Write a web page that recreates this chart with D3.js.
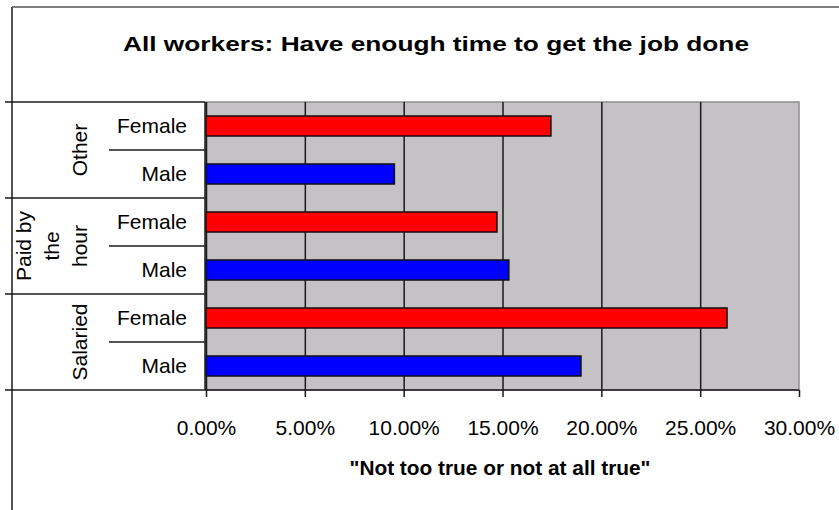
<!DOCTYPE html>
<html>
<head>
<meta charset="utf-8">
<script src="https://cdn.jsdelivr.net/npm/d3@7"></script>
<style>
  body { margin: 0; background: #fff; }
  svg text { font-family: "Liberation Sans", Arial, sans-serif; fill: #000; }
</style>
</head>
<body>
<svg id="chart" width="839" height="510"></svg>
<script>
// data
var groups = ["Other", "Paid by the hour", "Salaried"];
var groupLines = [["Other"], ["Paid by", "the", "hour"], ["Salaried"]];
var genders = ["Female", "Male"];
var femaleValues = [17.45, 14.72, 26.36];
var maleValues = [9.53, 15.32, 18.97];
var tickValues = [0, 0.05, 0.10, 0.15, 0.20, 0.25, 0.30];
var titleText = "All workers: Have enough time to get the job done";
var axisTitle = "\"Not too true or not at all true\"";

var linecolor = "#1a1a1a",
	plotfill = "#c4c2c5",
	femalecolor = "#ff0000",
	malecolor = "#0000ff";

var svg = d3.select("#chart");
var plotL = 206, plotR = 799, plotT = 102, plotB = 390;

var rows = [];
groups.forEach(function(g, i) {
	rows.push({ group: g, gender: "Female", value: femaleValues[i] / 100, key: g + "|Female" });
	rows.push({ group: g, gender: "Male", value: maleValues[i] / 100, key: g + "|Male" });
});

var x = d3.scaleLinear()
	.domain([0, 0.30])
	.range([plotL, plotR]);
var y = d3.scaleBand()
	.domain(rows.map(function(d) { return d.key; }))
	.range([plotT, plotB])
	.paddingInner(28 / 48)
	.paddingOuter(14 / 48);
var pad = (y.step() - y.bandwidth()) / 2;
function rowTop(k) { return y(k) - pad; }

// outer frame
svg.append("line").attr("x1", 12).attr("x2", 12).attr("y1", 7).attr("y2", 510)
	.attr("stroke", linecolor).attr("stroke-width", 1.5);
svg.append("line").attr("x1", 12).attr("x2", 839).attr("y1", 7).attr("y2", 7)
	.attr("stroke", "#555").attr("stroke-width", 1.5);

// title
svg.append("text")
	.attr("x", 436)
	.attr("y", 51)
	.attr("text-anchor", "middle")
	.attr("font-size", 21)
	.attr("font-weight", "bold")
	.attr("textLength", 626)
	.attr("lengthAdjust", "spacingAndGlyphs")
	.text(titleText);

// plot background
svg.append("rect")
	.attr("x", plotL)
	.attr("y", plotT)
	.attr("width", plotR - plotL)
	.attr("height", plotB - plotT)
	.attr("fill", plotfill)
	.attr("stroke", "#8e8e8e")
	.attr("stroke-width", 1.5);

// gridlines
var grid = svg.append("g")
	.attr("transform", "translate(0," + plotT + ")")
	.call(d3.axisBottom(x)
		.tickValues(tickValues.filter(function(t) { return t < 0.30; }))
		.tickSize(plotB - plotT)
		.tickFormat(""));
grid.select(".domain").remove();
grid.selectAll("line").attr("stroke", linecolor).attr("stroke-width", 1.5);

// bars
svg.append("g").selectAll("rect")
	.data(rows)
	.enter().append("rect")
	.attr("x", x(0))
	.attr("y", function(d) { return y(d.key); })
	.attr("width", function(d) { return x(d.value) - x(0); })
	.attr("height", y.bandwidth())
	.attr("fill", function(d) { return d.gender === "Female" ? femalecolor : malecolor; })
	.attr("stroke", "#111")
	.attr("stroke-width", 1.5);

// x axis
var bot = svg.append("g")
	.attr("transform", "translate(0," + plotB + ")")
	.call(d3.axisBottom(x)
		.tickValues(tickValues)
		.tickSize(7)
		.tickPadding(23)
		.tickFormat(d3.format(".2%")));
bot.select(".domain").remove();
bot.selectAll("line").attr("stroke", linecolor).attr("stroke-width", 1.5);
bot.selectAll("text")
	.attr("font-size", 21)
	.attr("font-family", "Liberation Sans, Arial, sans-serif")
	.attr("fill", "#000");
svg.append("line").attr("x1", 5).attr("x2", plotR).attr("y1", plotB).attr("y2", plotB)
	.attr("stroke", linecolor).attr("stroke-width", 1.5);

svg.append("text")
	.attr("x", 500)
	.attr("y", 475)
	.attr("text-anchor", "middle")
	.attr("font-size", 20)
	.attr("font-weight", "bold")
	.attr("textLength", 301)
	.attr("lengthAdjust", "spacingAndGlyphs")
	.text(axisTitle);

// category axis table on the left
var table = svg.append("g");
table.append("line").attr("x1", plotL - 1).attr("x2", plotL - 1).attr("y1", plotT).attr("y2", plotB)
	.attr("stroke", linecolor).attr("stroke-width", 1.5);
groups.forEach(function(g, i) {
	var gTop = rowTop(g + "|Female");
	var gMid = rowTop(g + "|Male");
	var gBot = gMid + y.step();
	table.append("line").attr("x1", 5).attr("x2", plotL - 1).attr("y1", gTop).attr("y2", gTop)
		.attr("stroke", linecolor).attr("stroke-width", 1.5);
	table.append("line").attr("x1", 109).attr("x2", plotL - 1).attr("y1", gMid).attr("y2", gMid)
		.attr("stroke", linecolor).attr("stroke-width", 1.5);
	var lines = groupLines[i];
	var cy = (gTop + gBot) / 2;
	lines.forEach(function(t, j) {
		var cx = 80 - (lines.length - 1 - j) * 28;
		table.append("text")
			.attr("transform", "translate(" + cx + "," + cy + ") rotate(-90)")
			.attr("text-anchor", "middle")
			.attr("dy", "0.35em")
			.attr("font-size", 21)
			.text(t);
	});
});
table.selectAll(".cat")
	.data(rows)
	.enter().append("text")
	.attr("class", "cat")
	.attr("x", 187)
	.attr("y", function(d) { return y(d.key) + y.bandwidth() / 2; })
	.attr("dy", "0.35em")
	.attr("text-anchor", "end")
	.attr("font-size", 21)
	.text(function(d) { return d.gender; });
</script>
</body>
</html>
